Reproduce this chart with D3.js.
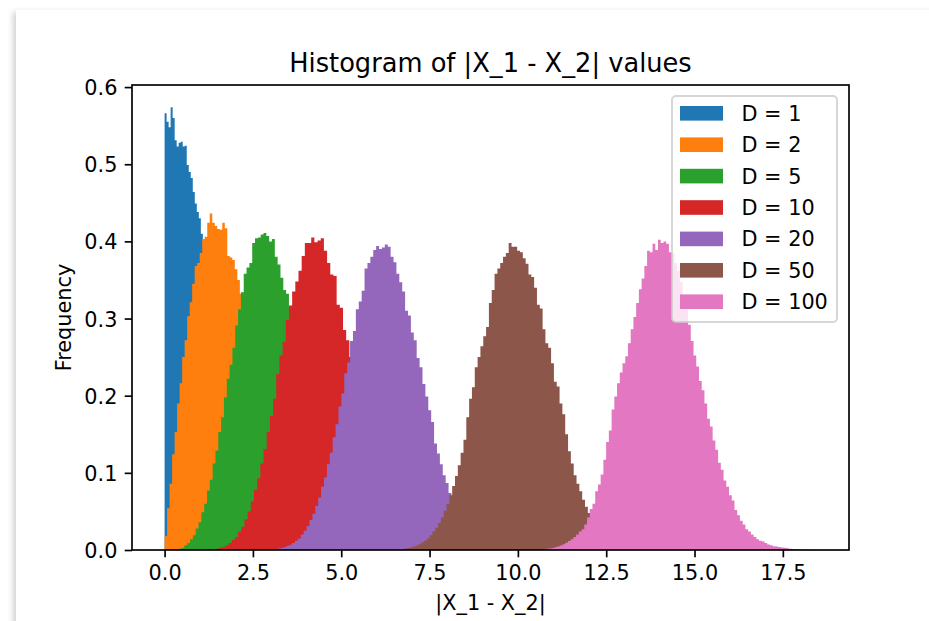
<!DOCTYPE html>
<html>
<head>
<meta charset="utf-8">
<script src="https://cdn.jsdelivr.net/npm/d3@7"></script>
<style>
  html, body { margin: 0; padding: 0; background: #fff; overflow: hidden; }
  body { width: 929px; height: 621px; position: relative; font-family: "DejaVu Sans", sans-serif; }
  #card { position: absolute; left: 16px; top: 10px; width: 1000px; height: 700px; background: #fff;
          box-shadow: -3px 2px 6px rgba(0,0,0,0.18); }
  svg { position: absolute; left: 0; top: 0; }
</style>
</head>
<body>
<div id="card"></div>
<svg id="chart" width="929" height="621"></svg>
<script>
// Series labels and colours (matplotlib tab10 cycle)
const labels = ["D = 1", "D = 2", "D = 5", "D = 10", "D = 20", "D = 50", "D = 100"];
const colors = ["#1f77b4", "#ff7f0e", "#2ca02c", "#d62728", "#9467bd", "#8c564b", "#e377c2"];

// Histogram bins: first edge and bin width of each series (100 bins each)
const binStart = [0.0, 0.0, 0.40, 1.45, 3.20, 6.70, 10.72];
const binWidth = [0.057, 0.071, 0.08, 0.09, 0.082, 0.08, 0.0773];

// Normalised frequencies per bin
const d1 = [0.566,0.555,0.548,0.574,0.560,0.531,0.523,0.528,0.529,0.523,0.524,0.499,0.490,0.482,0.464,0.449,0.438,0.430,0.410,0.398,
  0.386,0.372,0.360,0.347,0.336,0.322,0.310,0.297,0.284,0.273,0.260,0.248,0.236,0.225,0.212,0.203,0.189,0.180,0.168,0.159,
  0.148,0.140,0.129,0.122,0.112,0.106,0.096,0.091,0.082,0.078,0.070,0.066,0.059,0.056,0.049,0.047,0.041,0.038,0.034,0.031,
  0.027,0.025,0.022,0.020,0.018,0.016,0.014,0.013,0.011,0.010,0.009,0.008,0.007,0.006,0.005,0.0045,0.004,0.0035,0.003,0.0025,
  0.002,0.0018,0.0015,0.0012,0.001,0.0009,0.0007,0.0006,0.0005,0.0004,0.0003,0.0003,0.0002,0.0002,0.0001,0.0001,0.0001,0,0.0001,0.0001];
const d2 = [0.018,0.054,0.086,0.124,0.153,0.190,0.216,0.250,0.272,0.303,0.321,0.345,0.368,0.372,0.385,0.403,0.406,0.424,0.436,0.424,
  0.420,0.416,0.415,0.424,0.417,0.381,0.379,0.376,0.364,0.350,0.332,0.323,0.301,0.291,0.270,0.259,0.240,0.228,0.209,0.198,
  0.180,0.170,0.153,0.143,0.129,0.120,0.107,0.099,0.088,0.081,0.071,0.065,0.058,0.052,0.046,0.041,0.036,0.032,0.028,0.025,
  0.022,0.019,0.017,0.015,0.013,0.011,0.0095,0.008,0.007,0.006,0.005,0.0042,0.0035,0.003,0.0025,0.002,0.0017,0.0014,0.0011,0.0009,
  0.0008,0.0006,0.0005,0.0004,0.0003,0.0003,0.0002,0.0002,0.0001,0.0001,0.0001,0,0.0001,0,0,0,0,0,0,0.0001];
const d5 = [0.0017,0.003,0.006,0.009,0.014,0.019,0.028,0.036,0.049,0.060,0.077,0.091,0.112,0.129,0.153,0.172,0.198,0.222,0.240,0.262,
  0.291,0.312,0.334,0.358,0.366,0.372,0.398,0.404,0.405,0.409,0.411,0.407,0.400,0.403,0.380,0.370,0.353,0.337,0.332,0.313,
  0.298,0.280,0.266,0.245,0.230,0.209,0.196,0.176,0.163,0.145,0.133,0.117,0.107,0.093,0.085,0.073,0.065,0.056,0.050,0.042,
  0.037,0.032,0.027,0.023,0.020,0.017,0.014,0.012,0.010,0.0085,0.007,0.006,0.005,0.004,0.0033,0.0027,0.0022,0.0018,0.0014,0.0011,
  0.0009,0.0007,0.0006,0.0005,0.0004,0.0003,0.0003,0.0002,0.0002,0.0001,0.0001,0.0001,0.0001,0,0.0001,0,0,0,0,0.0001];
const d10 = [0.0017,0.003,0.004,0.006,0.009,0.013,0.017,0.024,0.030,0.040,0.050,0.063,0.078,0.093,0.112,0.131,0.153,0.174,0.196,0.228,
  0.252,0.270,0.298,0.317,0.335,0.348,0.362,0.381,0.398,0.398,0.405,0.399,0.401,0.404,0.388,0.372,0.357,0.355,0.318,0.314,
  0.285,0.272,0.250,0.226,0.207,0.185,0.168,0.147,0.133,0.115,0.103,0.088,0.078,0.066,0.057,0.048,0.041,0.034,0.029,0.024,
  0.020,0.016,0.013,0.011,0.0088,0.0071,0.0057,0.0046,0.0036,0.0029,0.0023,0.0018,0.0014,0.0011,0.0008,0.0006,0.0005,0.0004,0.0003,0.0002,
  0.0002,0.0002,0.0001,0.0001,0.0001,0.0001,0,0.0001,0,0,0.0001,0,0,0,0,0,0,0,0,0.0001];
const d20 = [0.0019,0.0027,0.0037,0.0051,0.0069,0.0091,0.012,0.015,0.020,0.025,0.031,0.039,0.047,0.057,0.068,0.082,0.094,0.111,0.126,0.146,
  0.163,0.186,0.203,0.229,0.243,0.271,0.284,0.312,0.322,0.336,0.365,0.372,0.380,0.389,0.394,0.390,0.392,0.396,0.393,0.380,
  0.373,0.358,0.347,0.335,0.310,0.304,0.282,0.272,0.249,0.237,0.215,0.199,0.181,0.166,0.138,0.125,0.111,0.097,0.087,0.074,
  0.066,0.055,0.049,0.041,0.035,0.030,0.025,0.021,0.017,0.015,0.012,0.0098,0.008,0.0065,0.0053,0.0043,0.0034,0.0027,0.0022,0.0017,
  0.0014,0.0011,0.0008,0.0006,0.0005,0.0004,0.0003,0.0003,0.0002,0.0002,0.0001,0.0001,0.0001,0.0001,0,0.0001,0,0,0,0.0001];
const d50 = [0.0014,0.0019,0.0026,0.0034,0.0045,0.0058,0.0075,0.0096,0.012,0.015,0.019,0.024,0.029,0.035,0.042,0.051,0.060,0.071,0.083,0.096,
  0.110,0.126,0.143,0.172,0.196,0.211,0.237,0.250,0.264,0.277,0.289,0.320,0.337,0.358,0.365,0.372,0.380,0.385,0.398,0.393,
  0.393,0.388,0.386,0.378,0.371,0.357,0.354,0.340,0.318,0.313,0.286,0.268,0.262,0.242,0.218,0.212,0.190,0.176,0.150,0.128,
  0.112,0.097,0.086,0.076,0.065,0.056,0.048,0.041,0.035,0.030,0.025,0.021,0.017,0.014,0.012,0.0096,0.0078,0.0063,0.0051,0.0041,
  0.0032,0.0025,0.0020,0.0016,0.0012,0.0010,0.0007,0.0006,0.0004,0.0003,0.0002,0.0002,0.0001,0.0001,0.0001,0,0.0001,0,0,0.0001];
const d100 = [0.0012,0.0016,0.0021,0.0027,0.0036,0.0046,0.0058,0.0074,0.0093,0.0116,0.014,0.017,0.020,0.024,0.027,0.033,0.042,0.053,0.060,0.076,
  0.085,0.098,0.117,0.140,0.155,0.182,0.199,0.216,0.230,0.242,0.251,0.268,0.286,0.302,0.320,0.338,0.352,0.368,0.388,0.386,
  0.397,0.389,0.402,0.398,0.400,0.397,0.386,0.385,0.372,0.362,0.347,0.330,0.312,0.292,0.271,0.252,0.238,0.219,0.207,0.190,
  0.170,0.160,0.142,0.130,0.113,0.104,0.090,0.082,0.071,0.064,0.052,0.045,0.038,0.033,0.027,0.024,0.020,0.017,0.014,0.012,
  0.011,0.009,0.007,0.006,0.005,0.0045,0.004,0.0033,0.003,0.0022,0.0016,0.0012,0.0009,0.0007,0.0005,0.0004,0.0003,0.0002,0.0002,0.0001];
const seriesValues = [d1, d2, d5, d10, d20, d50, d100];

// Axis ticks
const xTicks = [0, 2.5, 5, 7.5, 10, 12.5, 15, 17.5];
const yTicks = [0, 0.1, 0.2, 0.3, 0.4, 0.5, 0.6];

const titleText = "Histogram of |X_1 - X_2| values";
const xLabel = "|X_1 - X_2|";
const yLabel = "Frequency";

// ---- layout ----
const FONT = "DejaVu Sans, sans-serif";
const fs = 20.8;                       // 10pt text
const titleSize = 25.7;                // 12pt text
const plot = { left: 132, right: 849, top: 85, bottom: 550 };
const lw = 1.67;                       // spine / tick width
const tickLen = 7.3, tickPad = 7.3;

const svg = d3.select("#chart");

// Series as bin records
const series = seriesValues.map((vals, s) => {
  const bins = vals.map((v, i) => ({ x0: binStart[s] + i * binWidth[s], v }));
  bins.push({ x0: binStart[s] + vals.length * binWidth[s], v: vals[vals.length - 1] });
  return { label: labels[s], color: colors[s], bins };
});

// Data limits with matplotlib-style 5% margins
const xMinData = d3.min(series, s => s.bins[0].x0);
const xMaxData = d3.max(series, s => s.bins[s.bins.length - 1].x0);
const xPadding = 0.05 * (xMaxData - xMinData);
const yMaxData = d3.max(seriesValues, v => d3.max(v));

const x = d3.scaleLinear().domain([xMinData - xPadding, xMaxData + xPadding]).range([plot.left, plot.right]);
const y = d3.scaleLinear().domain([0, yMaxData * 1.05]).range([plot.bottom, plot.top]);

// Histograms, drawn in order so later series sit on top
const area = d3.area()
  .x(d => x(d.x0))
  .y0(y(0))
  .y1(d => y(d.v))
  .curve(d3.curveStepAfter);

svg.append("clipPath").attr("id", "plotclip")
  .append("rect").attr("x", plot.left).attr("y", plot.top)
  .attr("width", plot.right - plot.left).attr("height", plot.bottom - plot.top);

svg.append("g").attr("clip-path", "url(#plotclip)")
  .selectAll("path").data(series).join("path")
  .attr("d", d => area(d.bins))
  .attr("fill", d => d.color);

// Axes
const xAxis = d3.axisBottom(x).tickValues(xTicks).tickFormat(d3.format(".1f"))
  .tickSizeInner(tickLen).tickSizeOuter(0).tickPadding(tickPad);
const yAxis = d3.axisLeft(y).tickValues(yTicks).tickFormat(d3.format(".1f"))
  .tickSizeInner(tickLen).tickSizeOuter(0).tickPadding(tickPad);

const gx = svg.append("g").attr("transform", `translate(0,${plot.bottom})`).call(xAxis);
const gy = svg.append("g").attr("transform", `translate(${plot.left},0)`).call(yAxis);
[gx, gy].forEach(g => {
  g.select(".domain").remove();
  g.selectAll(".tick line").attr("stroke", "#000").attr("stroke-width", lw);
  g.selectAll(".tick text").attr("fill", "#000").attr("font-family", FONT).attr("font-size", fs);
});
gx.selectAll(".tick text").attr("dy", "0.76em");
gy.selectAll(".tick text").attr("dy", "0.36em");

// Spines
svg.append("rect")
  .attr("x", plot.left).attr("y", plot.top)
  .attr("width", plot.right - plot.left).attr("height", plot.bottom - plot.top)
  .attr("fill", "none").attr("stroke", "#000").attr("stroke-width", lw);

// Title and axis labels
svg.append("text").attr("x", (plot.left + plot.right) / 2).attr("y", 72)
  .attr("text-anchor", "middle").attr("font-family", FONT).attr("font-size", titleSize)
  .attr("fill", "#000").text(titleText);
svg.append("text").attr("x", (plot.left + plot.right) / 2).attr("y", 610)
  .attr("text-anchor", "middle").attr("font-family", FONT).attr("font-size", fs)
  .attr("fill", "#000").text(xLabel);
svg.append("text").attr("transform", `translate(71,${(plot.top + plot.bottom) / 2}) rotate(-90)`)
  .attr("text-anchor", "middle").attr("font-family", FONT).attr("font-size", fs)
  .attr("fill", "#000").text(yLabel);

// Legend
const legend = { x: 672, y: 96, w: 165, h: 226, row0: 113.3, rowStep: 31.4 };
const lg = svg.append("g");
lg.append("rect").attr("x", legend.x).attr("y", legend.y).attr("width", legend.w).attr("height", legend.h)
  .attr("rx", 4).attr("ry", 4)
  .attr("fill", "#fff").attr("fill-opacity", 0.8)
  .attr("stroke", "#cccccc").attr("stroke-opacity", 0.8).attr("stroke-width", 2);
const rows = lg.selectAll("g.row").data(series).join("g").attr("class", "row")
  .attr("transform", (d, i) => `translate(0,${legend.row0 + i * legend.rowStep})`);
rows.append("rect").attr("x", 680).attr("y", -7.3).attr("width", 43).attr("height", 14.6)
  .attr("fill", d => d.color);
rows.append("text").attr("x", 741.5).attr("y", 7.5)
  .attr("font-family", FONT).attr("font-size", fs).attr("fill", "#000")
  .text(d => d.label);
</script>
</body>
</html>
